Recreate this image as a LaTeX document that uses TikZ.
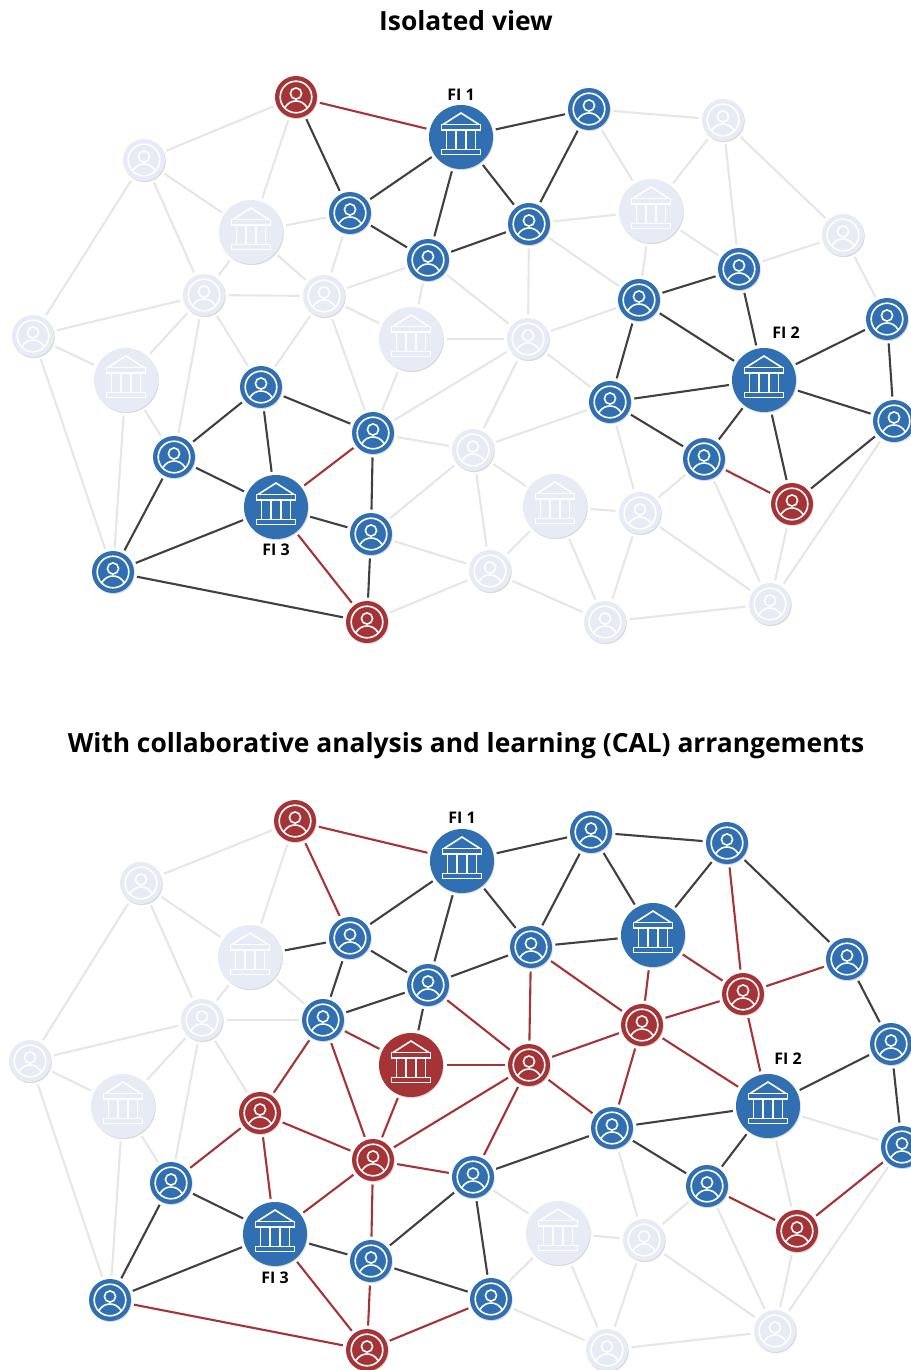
\documentclass[tikz,border=0pt]{standalone}
\usepackage{fontspec}
\setmainfont{Open Sans}
\usetikzlibrary{shadows}
\definecolor{cblue}{HTML}{306FB2}
\definecolor{cred}{HTML}{A63336}
\definecolor{cpale}{HTML}{E7EBF5}
\definecolor{eLight}{HTML}{E6E6E6}
\definecolor{eDark}{HTML}{404040}
\definecolor{eRed}{HTML}{A63336}
\newcommand\personicon{%
  \begin{scope}[shift={(path picture bounding box.center)},white,line width=1.6pt]
    \draw (0,0) circle (15.8);
    \draw (0,-3.5) circle (5.6);
    \draw (-11.5,11) .. controls (-8,5.5) and (-4,4) .. (0,4) .. controls (4,4) and (8,5.5) .. (11.5,11);
  \end{scope}}
\newcommand\bankicon{%
  \begin{scope}[shift={(path picture bounding box.center)},white,line width=1.6pt,line join=miter]
    \draw (-18,-12.5) -- (0,-24) -- (18,-12.5);
    \draw (-19.5,-12.5) rectangle (19.5,-7);
    \draw (-14.5,-7) -- (-14.5,12.5) (-5,-7) -- (-5,12.5) (5,-7) -- (5,12.5) (14.5,-7) -- (14.5,12.5);
    \draw (-19.5,12.5) rectangle (19.5,17.5);
  \end{scope}}
\tikzset{
  softshadow/.style={general shadow={shadow xshift=.8pt,shadow yshift=-1.2pt,opacity=.10,fill=black},
                     general shadow={shadow xshift=.5pt,shadow yshift=-.7pt,opacity=.08,fill=black}},
  netnode/.style={circle,inner sep=0pt,outer sep=3.5pt,draw=none,softshadow},
  person/.style={netnode,minimum size=42pt,fill=#1,path picture={\personicon}},
  bank/.style={netnode,minimum size=64pt,fill=#1,path picture={\bankicon}},
  persL/.style={person=cpale},persB/.style={person=cblue},persR/.style={person=cred},
  bankL/.style={bank=cpale},bankB/.style={bank=cblue},bankR/.style={bank=cred},
  ledge/.style={draw=eLight,line width=2.1pt},
  dedge/.style={draw=eDark,line width=2.1pt},
  redge/.style={draw=eRed,line width=2.1pt},
  title/.style={font=\bfseries\fontsize{26.4}{30}\selectfont,text=black,inner sep=0pt},
  filabel/.style={font=\bfseries\fontsize{16}{18}\selectfont,text=black,inner sep=0pt},
}
\begin{document}
\begin{tikzpicture}[x=1pt,y=-1pt]
\useasboundingbox (0,0) rectangle (910,1370);
\node[title] (title1) at (466,21) {Isolated view};
\node[title] (title2) at (466,746) {With collaborative analysis and learning (CAL) arrangements};
% top graph
\foreach \n/\x/\y/\s in {
 ra/296/97/persR, fo/461/137/bankB, pb/589/109/persB, pc/723/120/persL, pd/144/160/persL,
 bl/251/232/bankL, pe/350/213/persB, pf/529/224/persB, bg/651/211/bankL, ph/428/260/persB,
 pi/739/269/persB, pj/843/235/persL, pk/204/295/persL, pl/324/296/persL, pm/639/300/persB,
 pn/887/319/persB, po/33/336/persL, bp/411/339/bankL, pq/528/339/persL, ft/764/380/bankB,
 br/126/380/bankL, ps/261/387/persB, pt/610/402/persB, pu/373/433/persB, pv/894/421/persB,
 pw/473/450/persL, px/174/457/persB, py/704/459/persB, pz/792/504/persR, fh/276/507/bankB,
 bn/555/506/bankL, pA/640/513/persL, pB/371/534/persB, pC/113/572/persB, pD/490/571/persL,
 pE/770/604/persL, pF/367/622/persR, pG/605/622/persL}
 {\node[\s] (t\n) at (\x,\y) {};}
\foreach \a/\b in {ra/pd,ra/bl,pb/pc,pb/bg,pc/bg,pc/pi,pc/pj,pd/bl,pd/pk,pd/po,bl/pe,bl/pk,bl/pl,pe/pl,pf/bg,pf/pm,pf/pq,bg/pm,bg/pi,ph/pl,ph/bp,ph/pq,pi/pj,pj/pn,pk/pl,pk/po,pk/br,pk/px,pk/ps,pl/bp,pl/ps,pl/pu,pm/pq,po/br,po/pC,bp/pq,bp/pu,pq/pu,pq/pw,pq/pt,br/px,br/pC,pt/pw,pt/pA,pu/pw,pw/pB,pw/bn,pw/pD,pv/pE,py/pA,py/pE,pz/pE,bn/pA,bn/pD,bn/pG,pA/pG,pA/pE,pB/pD,pD/pF,pD/pG,pG/pE}
 {\draw[ledge] (t\a) -- (t\b);}
\foreach \a/\b in {ra/pe,fo/pb,fo/pe,fo/ph,fo/pf,pb/pf,pe/ph,pf/ph,pi/pm,pi/ft,pm/pt,pm/ft,pn/ft,pn/pv,ft/pt,ft/py,ft/pz,ft/pv,ps/pu,ps/px,ps/fh,pt/py,pu/pB,pv/pz,pB/fh,pB/pF,px/fh,px/pC,fh/pC,pC/pF}
 {\draw[dedge] (t\a) -- (t\b);}
\foreach \a/\b in {ra/fo,pu/fh,py/pz,fh/pF}
 {\draw[redge] (t\a) -- (t\b);}
% bottom graph
\foreach \n/\x/\y/\s in {
 ra/295/821/persR, fo/462/861/bankB, pb/591/832/persB, pc/727/843/persB, pd/141/883/persL,
 bl/250/957/bankL, pe/350/938/persB, pf/531/947/persB, bg/653/935/bankB, ph/428/985/persB,
 pi/743/994/persR, pj/847/959/persB, pk/202/1020/persL, pl/323/1020/persB, pm/642/1025/persR,
 pn/891/1044/persB, po/30/1061/persL, bp/411/1065/bankR, pq/529/1065/persR, ft/768/1106/bankB,
 br/123/1106/bankL, ps/260/1113/persR, pt/612/1128/persB, pu/373/1160/persR, pv/902/1147/persB,
 pw/473/1177/persB, px/171/1183/persB, py/707/1186/persB, pz/797/1231/persR, fh/275/1234/bankB,
 bn/558/1233/bankL, pA/644/1240/persL, pB/371/1261/persB, pC/110/1300/persB, pD/491/1299/persB,
 pE/775/1331/persL, pF/367/1350/persR, pG/607/1350/persL}
 {\node[\s] (b\n) at (\x,\y) {};}
\foreach \a/\b in {ra/pd,ra/bl,pd/bl,pd/pk,pd/po,bl/pk,bl/pl,pk/pl,pk/po,pk/br,pk/px,pk/ps,po/br,po/pC,br/px,br/pC,ft/pz,ft/pv,pt/pA,pv/pE,py/pA,py/pE,pz/pE,pw/bn,bn/pA,bn/pD,bn/pG,pA/pG,pA/pE,pD/pG,pG/pE}
 {\draw[ledge] (b\a) -- (b\b);}
\foreach \a/\b in {fo/pb,fo/pe,fo/ph,fo/pf,pb/pc,pb/pf,pb/bg,pc/bg,pc/pj,bl/pe,pe/ph,pe/pl,pf/ph,pf/bg,ph/pl,ph/bp,pj/pn,pn/ft,pn/pv,ft/pt,ft/py,pt/py,pt/pw,pw/pB,pw/pD,pB/fh,pB/pD,px/fh,px/pC,fh/pC}
 {\draw[dedge] (b\a) -- (b\b);}
\foreach \a/\b in {ra/fo,ra/pe,pc/pi,pf/pm,pf/pq,bg/pm,bg/pi,ph/pq,pi/pj,pi/pm,pi/ft,pl/bp,pl/ps,pl/pu,pm/pq,pm/pt,pm/ft,bp/pq,bp/pu,pq/pu,pq/pw,pq/pt,ps/pu,ps/px,ps/fh,pu/pw,pu/fh,pu/pB,pv/pz,py/pz,fh/pF,pB/pF,pC/pF,pD/pF}
 {\draw[redge] (b\a) -- (b\b);}
% labels
\node[filabel] (lt1) at (461,95) {FI 1};
\node[filabel] (lt2) at (786,333) {FI 2};
\node[filabel] (lt3) at (276,550) {FI 3};
\node[filabel] (lb1) at (462,818) {FI 1};
\node[filabel] (lb2) at (788,1059) {FI 2};
\node[filabel] (lb3) at (275,1278) {FI 3};
\end{tikzpicture}
\end{document}
